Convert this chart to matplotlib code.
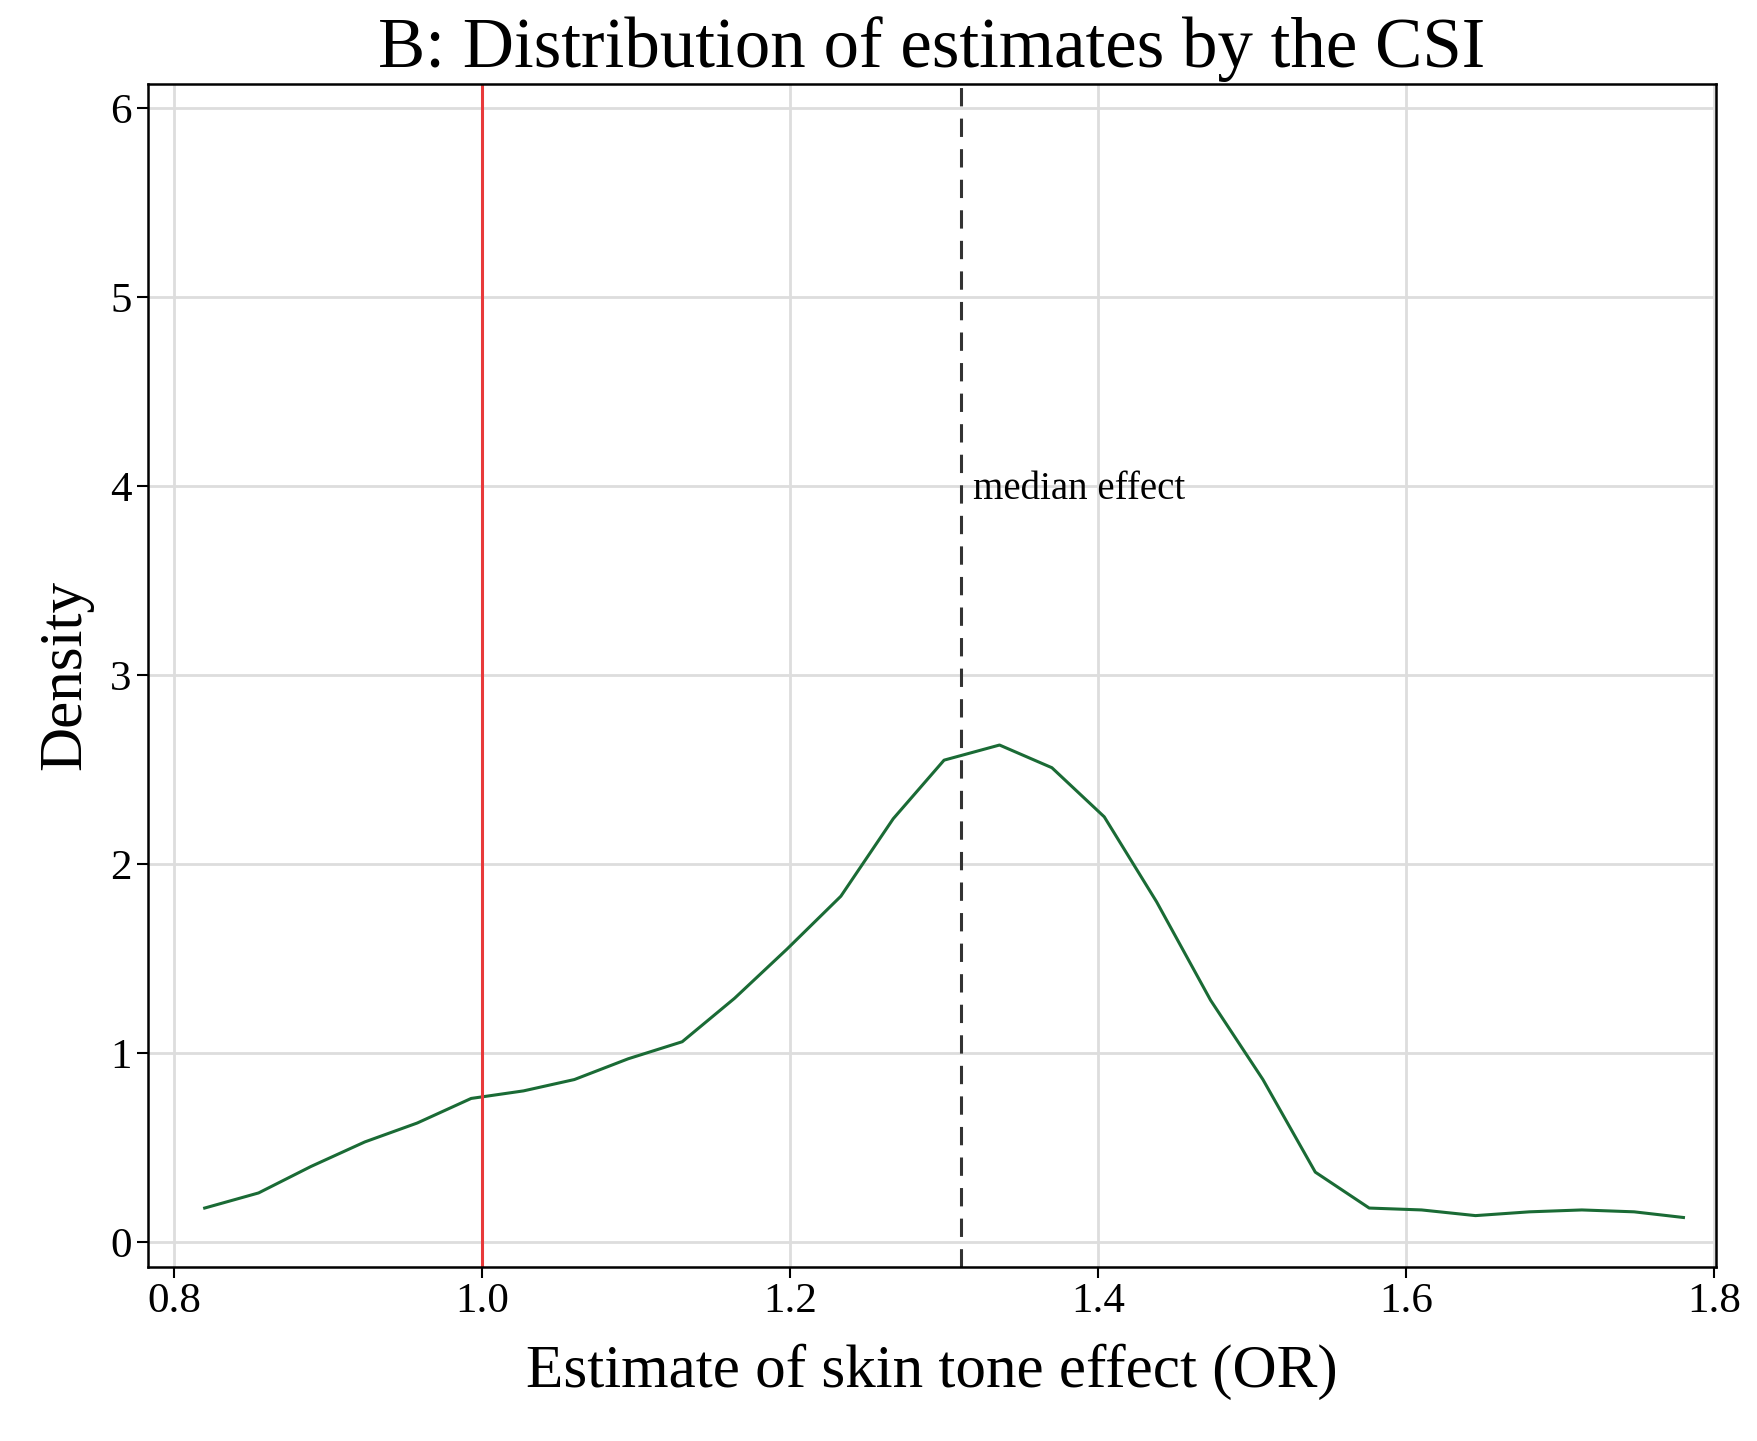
import matplotlib.pyplot as plt

est = [0.82, 0.855, 0.889, 0.924, 0.958, 0.993, 1.027, 1.06, 1.095, 1.13,
       1.164, 1.198, 1.233, 1.267, 1.30, 1.336, 1.37, 1.404, 1.438, 1.473,
       1.507, 1.541, 1.576, 1.61, 1.645, 1.68, 1.714, 1.748, 1.78]
density = [0.18, 0.26, 0.40, 0.53, 0.63, 0.76, 0.80, 0.86, 0.97, 1.06,
           1.29, 1.55, 1.83, 2.24, 2.55, 2.63, 2.51, 2.25, 1.80, 1.28,
           0.86, 0.37, 0.18, 0.17, 0.14, 0.16, 0.17, 0.16, 0.13]
median_effect = 1.311
null_effect = 1.0
xticks = [0.8, 1.0, 1.2, 1.4, 1.6, 1.8]
yticks = [0, 1, 2, 3, 4, 5, 6]

plt.rcParams['font.family'] = ['Liberation Serif', 'DejaVu Serif']

fig = plt.figure(figsize=(17.58, 14.41), dpi=100)
ax = fig.add_axes([0.084, 0.121, 0.892, 0.821])

ax.plot(est, density, color='#1a6b35', lw=2.2)
ax.axvline(null_effect, color='#e8393a', lw=2.2)
ax.axvline(median_effect, color='#333333', lw=2.2, ls=(0, (6, 4)))
ax.text(median_effect + 0.008, 3.98, 'median effect', fontsize=28, va='center')

ax.set_xlim(0.783, 1.801)
ax.set_ylim(-0.13, 6.13)
ax.set_xticks(xticks)
ax.set_xticklabels(['%.1f' % t for t in xticks])
ax.set_yticks(yticks)
ax.grid(True, color='#dddddd', lw=2)
ax.set_axisbelow(True)
ax.tick_params(labelsize=31, length=8, width=1.5, direction='out')
for s in ax.spines.values():
    s.set_linewidth(1.8)

ax.set_title('B: Distribution of estimates by the CSI', fontsize=51, pad=12)
ax.set_xlabel('Estimate of skin tone effect (OR)', fontsize=44, labelpad=16)
ax.set_ylabel('Density', fontsize=44, labelpad=12)

plt.savefig('out.png')
